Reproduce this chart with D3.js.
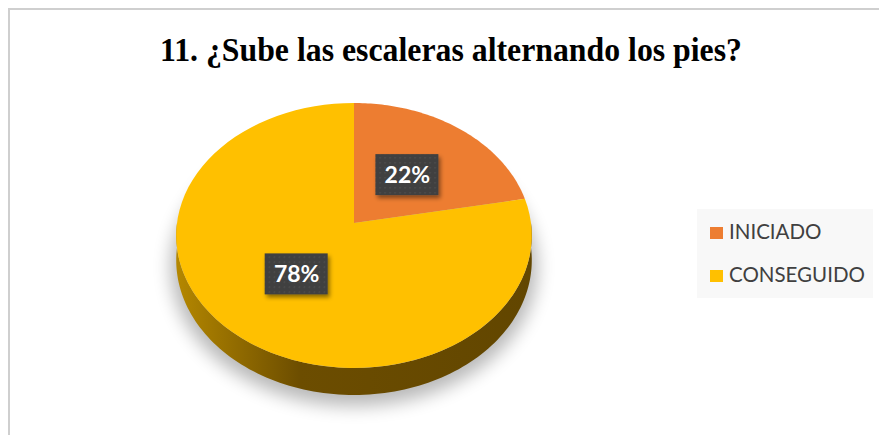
<!DOCTYPE html>
<meta charset="utf-8">
<head>
<style>
  body { margin: 0; background: #fff; }
  .title { font: bold 34px "Liberation Serif", serif; fill: #000; }
  .legend text { font: 20.5px Lato, sans-serif; fill: #404040; }
  .lbl { font: bold 23px Lato, sans-serif; fill: #fff; }
</style>
</head>
<body>
<script src="https://d3js.org/d3.v7.min.js"></script>
<script>

var categories = ["INICIADO", "CONSEGUIDO"];
var values = [22, 78];
var colors = ["#ED7D31", "#FFC000"];
var labels = ["22%", "78%"];

var width = 879, height = 435;

// pie geometry (perspective tilt)
var cx = 354, cy = 223, rx = 177, ry = 131.3, persp = 0.094, depth = 24.5;

function proj(a, r, dy) {
  var X = Math.sin(a) * r, Z = -Math.cos(a) * r;
  var k = 1 - Z * persp;
  return [cx + rx * X / k, cy + (ry * Z + (dy || 0)) / k];
}

var svg = d3.select("body").append("svg")
    .attr("width", width)
    .attr("height", height);

var defs = svg.append("defs");

defs.append("filter").attr("id", "blur")
    .attr("x", "-20%").attr("y", "-20%").attr("width", "140%").attr("height", "140%")
  .append("feGaussianBlur").attr("stdDeviation", 9);

var dsh = defs.append("filter").attr("id", "boxshadow")
    .attr("x", "-20%").attr("y", "-20%").attr("width", "150%").attr("height", "150%");
dsh.append("feDropShadow").attr("dx", 2).attr("dy", 3).attr("stdDeviation", 2)
    .attr("flood-color", "#000").attr("flood-opacity", 0.45);

var side = defs.append("linearGradient").attr("id", "side")
    .attr("gradientUnits", "userSpaceOnUse")
    .attr("x1", cx - rx).attr("x2", cx + rx).attr("y1", 0).attr("y2", 0);
side.append("stop").attr("offset", "0%").attr("stop-color", "#b48700");
side.append("stop").attr("offset", "35%").attr("stop-color", "#6c4d00");
side.append("stop").attr("offset", "100%").attr("stop-color", "#624600");

var pat = defs.append("pattern").attr("id", "dots")
    .attr("patternUnits", "userSpaceOnUse").attr("width", 5).attr("height", 5);
pat.append("rect").attr("width", 5).attr("height", 5).attr("fill", "#404040");
pat.append("rect").attr("x", 2).attr("y", 2).attr("width", 1.4).attr("height", 1.4).attr("fill", "#525252");

// frame
svg.append("rect")
    .attr("x", 9).attr("y", 9)
    .attr("width", 900).attr("height", 500)
    .attr("fill", "#fff")
    .attr("stroke", "#cfcfcf")
    .attr("stroke-width", 2);

svg.append("text")
    .attr("class", "title")
    .attr("x", 451).attr("y", 61)
    .attr("text-anchor", "middle")
    .attr("textLength", 582)
    .attr("lengthAdjust", "spacingAndGlyphs")
    .text("11. ¿Sube las escaleras alternando los pies?");

var line = d3.line();
var steps = d3.range(0, 121).map(function(i) { return i / 120; });

// shadow
var shadowPts = steps.map(function(t) {
  var p = proj(t * 2 * Math.PI, 1.03, depth);
  return [p[0], p[1] + 6];
});
svg.append("path")
    .attr("d", line(shadowPts) + "Z")
    .attr("fill", "#000")
    .attr("opacity", 0.28)
    .attr("filter", "url(#blur)");

// side wall (front half)
var frontTop = steps.map(function(t) { return proj(Math.PI / 2 + t * Math.PI, 1, 0); });
var frontBot = steps.map(function(t) { return proj(Math.PI * 1.5 - t * Math.PI, 1, depth); });
svg.append("path")
    .attr("d", line(frontTop.concat(frontBot)) + "Z")
    .attr("fill", "url(#side)");

// top face slices
var pie = d3.pie().sort(null).value(function(d) { return d; });
var arcs = pie(values);

svg.append("g").selectAll("path")
    .data(arcs)
  .enter().append("path")
    .attr("d", function(d) {
      var n = 80, pts = [[cx, cy]];
      for (var i = 0; i <= n; i++) {
        pts.push(proj(d.startAngle + (d.endAngle - d.startAngle) * i / n, 1, 0));
      }
      return line(pts) + "Z";
    })
    .attr("fill", function(d, i) { return colors[i]; });

// data labels
var lab = svg.append("g").selectAll("g")
    .data(arcs)
  .enter().append("g")
    .attr("transform", function(d) {
      var p = proj((d.startAngle + d.endAngle) / 2, 0.49, 0);
      return "translate(" + p[0] + "," + p[1] + ")";
    });
lab.append("rect")
    .attr("x", -32).attr("y", -21)
    .attr("width", 63).attr("height", 41)
    .attr("fill", "url(#dots)")
    .attr("filter", "url(#boxshadow)");
lab.append("text")
    .attr("class", "lbl")
    .attr("text-anchor", "middle")
    .attr("y", 8)
    .text(function(d, i) { return labels[i]; });

// legend
var legend = svg.append("g").attr("class", "legend");
legend.append("rect")
    .attr("x", 697).attr("y", 209)
    .attr("width", 176).attr("height", 89)
    .attr("fill", "#f8f8f8");

var items = legend.selectAll("g.item")
    .data(categories)
  .enter().append("g")
    .attr("class", "item")
    .attr("transform", function(d, i) { return "translate(710," + (227 + i * 43) + ")"; });
items.append("rect")
    .attr("width", 13).attr("height", 12)
    .attr("fill", function(d, i) { return colors[i]; });
items.append("text")
    .attr("x", 19).attr("y", 12)
    .text(function(d) { return d; });

</script>
</body>
